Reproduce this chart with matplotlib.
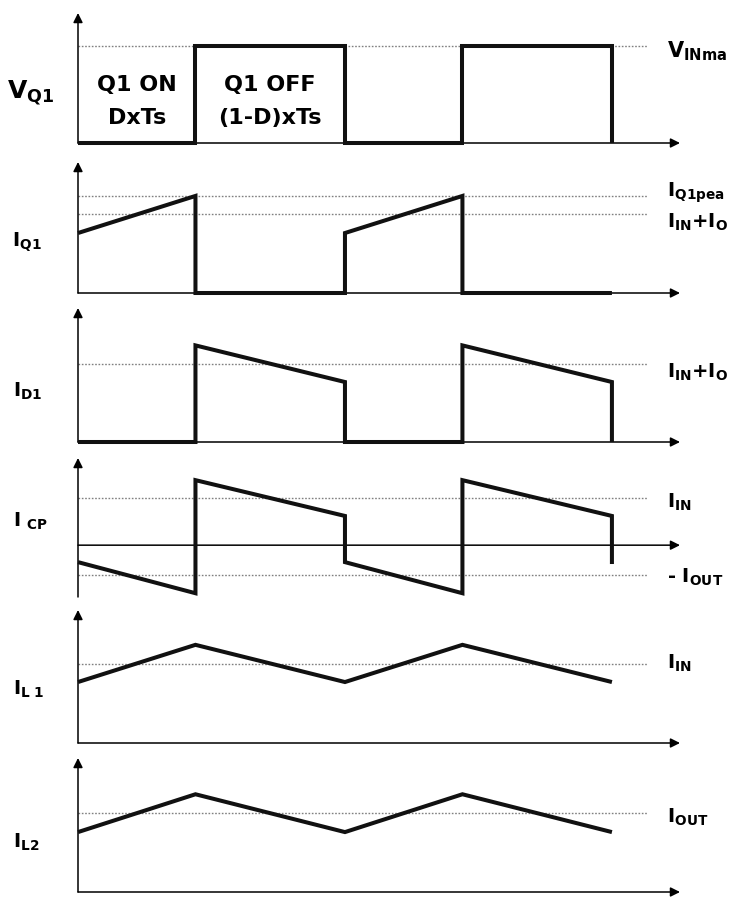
#!/usr/bin/env python3
"""SEPIC converter switching waveforms: V_Q1, I_Q1, I_D1, I_CP, I_L1, I_L2."""

import matplotlib
matplotlib.use("Agg")
import matplotlib.pyplot as plt

W_PX, H_PX = 738, 899

# time axis in switching periods Ts, duty cycle D = 0.44
T_STEP = [0.0, 0.44, 0.44, 1.0, 1.0, 1.44, 1.44, 2.0, 2.0]
T_IQ1 = [0.0, 0.44, 0.44, 1.0, 1.0, 1.44, 1.44, 2.0]
T_RAMP = [0.0, 0.44, 1.0, 1.44, 2.0]
T_END = 2.255

# waveforms (normalised to the dotted reference level of each trace)
VQ1 = [0, 0, 1, 1, 0, 0, 1, 1, 0]
IQ1 = [0.76, 1.23, 0, 0, 0.76, 1.23, 0, 0]
ID1 = [0, 0, 1.24, 0.77, 0, 0, 1.24, 0.77, 0]
ICP = [-0.36, -1.02, 1.38, 0.62, -0.36, -1.02, 1.38, 0.62, -0.40]
IL1 = [0.77, 1.24, 0.77, 1.24, 0.77]
IL2 = [0.76, 1.24, 0.76, 1.24, 0.76]

# dotted reference levels
LEVELS_VQ1 = [1.0]
LEVELS_IQ1 = [1.23, 1.0]
LEVELS_ID1 = [1.0]
LEVELS_ICP = [1.0, -0.64]
LEVELS_IL1 = [1.0]
LEVELS_IL2 = [1.0]
LEVEL_END = 2.13

LEFT_LABELS = [r"$\mathbf{V_{Q1}}$", r"$\mathbf{I_{Q1}}$", r"$\mathbf{I_{D1}}$",
               r"$\mathbf{I}\ {}_{\mathbf{CP}}$", r"$\mathbf{I_{L\ 1}}$",
               r"$\mathbf{I_{L2}}$"]

WAVE_COLOR = "#111111"
DOT_COLOR = "#808080"

plt.rcParams["mathtext.fontset"] = "dejavusans"
plt.rcParams["font.family"] = "DejaVu Sans"


def px_text(fig, x, y, s, size, **kw):
    fig.text(x / W_PX, 1 - y / H_PX, s, fontsize=size, fontweight="bold",
             va="center", ha="left", **kw)


def make_panel(fig, top, bottom, ylim):
    left, right = 78, 680
    ax = fig.add_axes([left / W_PX, 1 - bottom / H_PX,
                       (right - left) / W_PX, (bottom - top) / H_PX])
    ax.set_xlim(0, T_END)
    ax.set_ylim(*ylim)
    ax.axis("off")
    arrow = dict(arrowstyle="-|>", color="black", lw=1.1,
                 mutation_scale=14, shrinkA=0, shrinkB=0)
    ax.annotate("", xy=(0, ylim[1]), xytext=(0, ylim[0]),
                arrowprops=arrow, annotation_clip=False)
    ax.annotate("", xy=(T_END, 0), xytext=(0, 0),
                arrowprops=arrow, annotation_clip=False)
    return ax


def draw_wave(ax, t, y, levels):
    for lv in levels:
        ax.plot([0, LEVEL_END], [lv, lv], color=DOT_COLOR, lw=1.0,
                ls=(0, (1.2, 1.2)), zorder=1)
    ax.plot(t, y, color=WAVE_COLOR, lw=2.9, solid_joinstyle="miter",
            solid_capstyle="butt", clip_on=False, zorder=3)


fig = plt.figure(figsize=(W_PX / 100, H_PX / 100), dpi=100)

panels = [
    (13, 143, (0, 1.34), T_STEP, VQ1, LEVELS_VQ1),
    (162, 293, (0, 1.66), T_IQ1, IQ1, LEVELS_IQ1),
    (308, 442, (0, 1.72), T_STEP, ID1, LEVELS_ID1),
    (458, 597, (-1.10, 1.85), T_STEP, ICP, LEVELS_ICP),
    (610, 743, (0, 1.68), T_RAMP, IL1, LEVELS_IL1),
    (758, 892, (0, 1.70), T_RAMP, IL2, LEVELS_IL2),
]

axes = []
for top, bottom, ylim, t, y, levels in panels:
    ax = make_panel(fig, top, bottom, ylim)
    draw_wave(ax, t, y, levels)
    axes.append(ax)

# switching interval annotations in the V_Q1 trace
ax0 = axes[0]
for x, y, s in [(0.22, 0.60, "Q1 ON"), (0.22, 0.26, "DxTs"),
                (0.72, 0.60, "Q1 OFF"), (0.72, 0.26, "(1-D)xTs")]:
    ax0.text(x, y, s, ha="center", va="center", fontsize=16,
             fontweight="bold")

# left trace names
left_pos = [(7, 93, 18), (12, 242, 14), (13, 391, 14), (13, 521, 14),
            (13, 689, 14), (13, 842, 14)]
for (x, y, size), s in zip(left_pos, LEFT_LABELS):
    px_text(fig, x, y, s, size)

# right level names
px_text(fig, 667, 51, r"$\mathbf{V_{INma}}$", 15)
px_text(fig, 667, 193, r"$\mathbf{I_{Q1pea}}$", 14)
px_text(fig, 667, 222, r"$\mathbf{I_{IN}{+}I_{O}}$", 14)
px_text(fig, 667, 372, r"$\mathbf{I_{IN}{+}I_{O}}$", 14)
px_text(fig, 667, 502, r"$\mathbf{I_{IN}}$", 14)
px_text(fig, 667, 577, r"- $\mathbf{I_{OUT}}$", 14)
px_text(fig, 667, 663, r"$\mathbf{I_{IN}}$", 14)
px_text(fig, 667, 817, r"$\mathbf{I_{OUT}}$", 14)

fig.savefig("out.png", dpi=100, facecolor="white")
